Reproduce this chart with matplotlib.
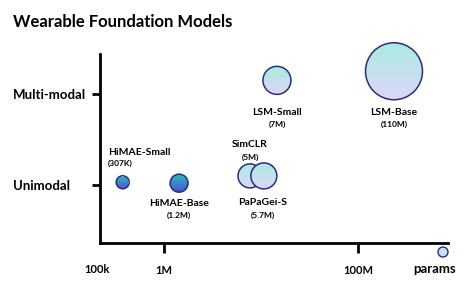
import matplotlib
matplotlib.use("Agg")
import matplotlib.pyplot as plt
import matplotlib.patches as mpatches
import matplotlib.transforms as mtransforms
from matplotlib.colors import LinearSegmentedColormap
import numpy as np

# data
models = ["HiMAE-Small", "HiMAE-Base", "SimCLR", "PaPaGei-S", "LSM-Small", "LSM-Base"]
param_labels = ["(307K)", "(1.2M)", "(5M)", "(5.7M)", "(7M)", "(110M)"]
x_params = [3.75e5, 1.43e6, 7.7e6, 1.07e7, 1.46e7, 2.35e8]  # where each bubble sits on the params axis
y_modality = [0.03, 0.02, 0.1, 0.1, 1.15, 1.25]            # 0 = unimodal, 1 = multi-modal
bubble_r = [6.5, 9, 12, 13, 14, 28.5]                      # bubble radius (px)
modality_ticks = [0, 1]
modality_labels = ["Unimodal", "Multi-modal"]
x_ticks = [1e6, 1e8]
x_tick_labels = ["1M", "100M"]

FONT = "Lato"
NAVY = "#2b2d7a"
dark_cmap = LinearSegmentedColormap.from_list("dark", ["#4c56d6", "#26c0bc"])
light_cmap = LinearSegmentedColormap.from_list("light", ["#ddd6f8", "#aaece0"])

W, H = 468, 283
fig = plt.figure(figsize=(W / 100, H / 100), dpi=100)
ax = fig.add_axes([100 / W, 40 / H, 348 / W, 189 / H])
ax.set_xscale("log")
ax.set_xlim(10 ** (6 - 64 / 97), 10 ** (6 + 284 / 97))
ax.set_ylim(-58 / 91, 1 + 40 / 91)
ax.set_autoscale_on(False)

for side in ["top", "right"]:
    ax.spines[side].set_visible(False)
for side in ["left", "bottom"]:
    ax.spines[side].set_linewidth(2.0)

ax.set_xticks(x_ticks)
ax.set_xticklabels(x_tick_labels)
ax.xaxis.set_minor_locator(matplotlib.ticker.NullLocator())
ax.set_yticks(modality_ticks)
ax.set_yticklabels(modality_labels)
ax.tick_params(axis="x", length=7, width=2.0, pad=9, labelsize=8)
# y labels are left-aligned at the figure edge
ax.tick_params(axis="y", length=6, width=2.0, pad=56.5, labelsize=9.5)
for lab in ax.get_xticklabels() + ax.get_yticklabels():
    lab.set_fontfamily(FONT)
    lab.set_fontweight("bold")
for lab in ax.get_yticklabels():
    lab.set_horizontalalignment("left")

ax.text(-0.01, -0.14, "100k", transform=ax.transAxes, ha="center", va="center",
        fontsize=8, fontweight="bold", fontfamily=FONT)
ax.text(0.962, -0.14, "params", transform=ax.transAxes, ha="center", va="center",
        fontsize=9.5, fontweight="bold", fontfamily=FONT)

fig.text(13 / W, 1 - 22 / H, "Wearable Foundation Models", ha="left", va="center",
         fontsize=12, fontweight="bold", fontfamily=FONT)

ident = mtransforms.IdentityTransform()
inv = ax.transData.inverted()
grad = np.linspace(0, 1, 128).reshape(-1, 1)


def bubble(cx, cy, r, cmap, z):
    circ = mpatches.Circle((cx, cy), r, transform=ident, facecolor="none",
                           edgecolor=NAVY, linewidth=1.1, zorder=z + 0.5, clip_on=False)
    ax.add_patch(circ)
    (x0, y0), (x1, y1) = inv.transform([(cx - r, cy - r), (cx + r, cy + r)])
    im = ax.imshow(grad, cmap=cmap, extent=[x0, x1, y0, y1], origin="lower",
                   aspect="auto", interpolation="bilinear", zorder=z)
    im.set_clip_box(fig.bbox)
    im.set_clip_path(circ)


# label placement (pixel offsets from bubble centre)
placement = {
    "HiMAE-Small": (-15, 30, 19, "left"),
    "HiMAE-Base": (0, -20, -32, "center"),
    "SimCLR": (0, 31, 19, "center"),
    "PaPaGei-S": (-1, -27, -39, "center"),
    "LSM-Small": (0, -32, -44, "center"),
    "LSM-Base": (0, -41, -53, "center"),
}

for i, (name, sub, x, y, r) in enumerate(zip(models, param_labels, x_params, y_modality, bubble_r)):
    cx, cy = ax.transData.transform((x, y))
    cmap = dark_cmap if name.startswith("HiMAE") else light_cmap
    bubble(cx, cy, r, cmap, 3 + i)
    dx, dy1, dy2, ha = placement[name]
    ax.annotate(name, (x, y), xytext=(dx, dy1), textcoords="offset pixels",
                ha=ha, va="center", fontsize=7.5, fontweight="bold", fontfamily=FONT)
    ax.annotate(sub, (x, y), xytext=(dx, dy2), textcoords="offset pixels",
                ha=ha, va="center", fontsize=6, fontweight="bold", fontfamily=FONT)

# legend key bubble next to "params"
key = mpatches.Circle((443, H - 252), 5, transform=ident, facecolor="#c9dcf5",
                      edgecolor=NAVY, linewidth=1.0, clip_on=False, zorder=12)
ax.add_patch(key)

fig.savefig("out.png", dpi=100)
